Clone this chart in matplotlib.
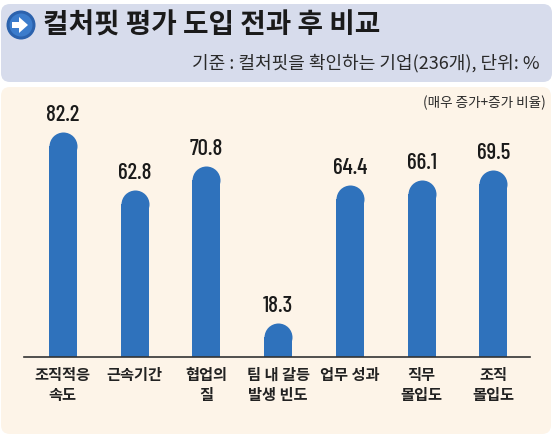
import matplotlib
matplotlib.use("Agg")
import matplotlib.pyplot as plt
from matplotlib.patches import FancyBboxPatch, Circle, Polygon

plt.rcParams['font.family'] = ['Noto Sans CJK KR', 'DejaVu Sans']

categories = ['조직적응\n속도', '근속기간', '협업의\n질', '팀 내 갈등\n발생 빈도', '업무 성과', '직무\n몰입도', '조직\n몰입도']
values = [82.2, 62.8, 70.8, 18.3, 64.4, 66.1, 69.5]
value_labels = ['82.2', '62.8', '70.8', '18.3', '64.4', '66.1', '69.5']
title = '컬처핏 평가 도입 전과 후 비교'
subtitle = '기준 : 컬처핏을 확인하는 기업(236개), 단위: %'
note = '(매우 증가+증가 비율)'

W, H = 556, 441
DPI = 100
fig = plt.figure(figsize=(W / DPI, H / DPI), dpi=DPI)
fig.patch.set_facecolor('white')

bg = fig.add_axes([0, 0, 1, 1])
bg.set_xlim(0, W)
bg.set_ylim(H, 0)
bg.axis('off')

bg.add_patch(FancyBboxPatch((1, 87), 550, 347, boxstyle='round,pad=0,rounding_size=9',
                            fc='#fdf4e8', ec='none'))
bg.add_patch(FancyBboxPatch((1, 4), 551, 78, boxstyle='round,pad=0,rounding_size=9',
                            fc='#d7dcec', ec='none'))

bg.add_patch(Circle((21, 25), 14.5, fc='#2b62ad', ec='none'))
bg.add_patch(Circle((21, 25), 11.5, fc='#3b7ccc', ec='none'))
bg.add_patch(Polygon([(12, 22), (19, 22), (19, 17), (28, 25), (19, 33), (19, 28), (12, 28)],
                     closed=True, fc='white', ec='none'))

bg.text(43, 26, title, fontsize=20, fontweight='bold', color='#1a1a1a',
        ha='left', va='center')
bg.text(540, 63, subtitle, fontsize=13, color='#2a2a2a', ha='right', va='center')
bg.text(546, 103, note, fontsize=9.8, color='#2a2a2a', ha='right', va='center')

ax_left, ax_right = 24, 530
ax_bottom, ax_top = 357, 87
ax = fig.add_axes([ax_left / W, 1 - ax_bottom / H, (ax_right - ax_left) / W, (ax_bottom - ax_top) / H])
ax.patch.set_alpha(0)
x = list(range(len(values)))
ymin = 6.8
px_per_unit = 2.99
ax.set_ylim(ymin, ymin + (ax_bottom - ax_top) / px_per_unit)
ax.set_xlim(-0.54, len(values) - 1 + 0.51)

bar_color = '#2f72bc'
bar_w = 0.39
bar_w_px = 28
r_units = (bar_w_px / 2) / px_per_unit
ax.bar(x, [v - r_units for v in values], width=bar_w, color=bar_color, zorder=2)
ax.scatter(x, [v - r_units for v in values], s=(bar_w_px * 72 / DPI) ** 2,
           color=bar_color, marker='o', linewidths=0, zorder=2)

for xi, v, lab in zip(x, values, value_labels):
    ax.annotate(lab, (xi, v), xytext=(0, 5), textcoords='offset points',
                ha='center', va='bottom', fontsize=16.5, fontweight='medium',
                family=['Barlow Condensed', 'DejaVu Sans'], color='#1a1a1a')

for s in ['top', 'right', 'left']:
    ax.spines[s].set_visible(False)
ax.spines['bottom'].set_color('#333333')
ax.spines['bottom'].set_linewidth(1.2)
ax.set_yticks([])
ax.set_xticks(x)
ax.set_xticklabels(categories, fontsize=11, fontweight='bold', color='#222222', linespacing=1.3)
ax.tick_params(axis='x', length=0, pad=7)

fig.savefig('out.png', dpi=DPI, facecolor='white')
